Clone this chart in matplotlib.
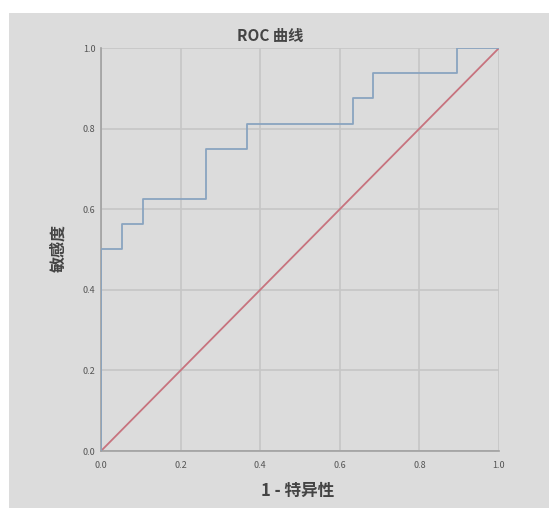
import matplotlib
matplotlib.use("Agg")
import matplotlib.pyplot as plt
from matplotlib.patches import Rectangle

plt.rcParams['font.family'] = ['Noto Sans CJK SC', 'DejaVu Sans']

# 1 - 特异性 / 敏感度 的阶梯点
fpr = [0.0, 0.0, 0.053, 0.053, 0.105, 0.105, 0.263, 0.263, 0.368, 0.368,
       0.632, 0.632, 0.684, 0.684, 0.895, 0.895, 1.0]
tpr = [0.0, 0.5, 0.5, 0.5625, 0.5625, 0.625, 0.625, 0.75, 0.75, 0.8125,
       0.8125, 0.875, 0.875, 0.9375, 0.9375, 1.0, 1.0]
ref = [0.0, 1.0]
ticks = [0.0, 0.2, 0.4, 0.6, 0.8, 1.0]

bg = '#dcdcdc'
fig = plt.figure(figsize=(5.51, 5.11), dpi=100)
fig.patch.set_facecolor('white')
fig.patches.append(Rectangle((9 / 551, 3 / 511), 540 / 551, 495 / 511,
                             transform=fig.transFigure, facecolor=bg,
                             edgecolor='none', zorder=-5))

ax = fig.add_axes([101 / 551, 60 / 511, 398 / 551, 403 / 511])
ax.set_facecolor(bg)
ax.plot(fpr, tpr, color='#8aa4c0', linewidth=1.3, zorder=3)
ax.plot(ref, ref, color='#c7737e', linewidth=1.3, zorder=2)

ax.set_xlim(0, 1)
ax.set_ylim(0, 1)
ax.set_xticks(ticks)
ax.set_yticks(ticks)
ax.set_xticklabels([f'{t:.1f}' for t in ticks], fontsize=6.5, color='#555555')
ax.set_yticklabels([f'{t:.1f}' for t in ticks], fontsize=6.5, color='#555555')
ax.tick_params(axis='x', length=0, pad=7)
ax.tick_params(axis='y', length=0, pad=4)
ax.grid(True, color='#c6c6c6', linewidth=1.2)
ax.set_axisbelow(True)
for s in ['top', 'right']:
    ax.spines[s].set_visible(False)
for s in ['left', 'bottom']:
    ax.spines[s].set_color('#a0a0a0')
    ax.spines[s].set_linewidth(1.2)

fig.text(270 / 551, 1 - 36 / 511, 'ROC 曲线', ha='center', va='center',
         fontsize=11, fontweight='bold', color='#444444')
fig.text(298 / 551, 1 - 491 / 511, '1 - 特异性', ha='center', va='center',
         fontsize=12, fontweight='bold', color='#444444')
fig.text(58 / 551, 1 - 248 / 511, '敏感度', ha='center', va='center',
         rotation=90, fontsize=11.5, fontweight='bold', color='#444444')

fig.savefig('out.png', dpi=100)
